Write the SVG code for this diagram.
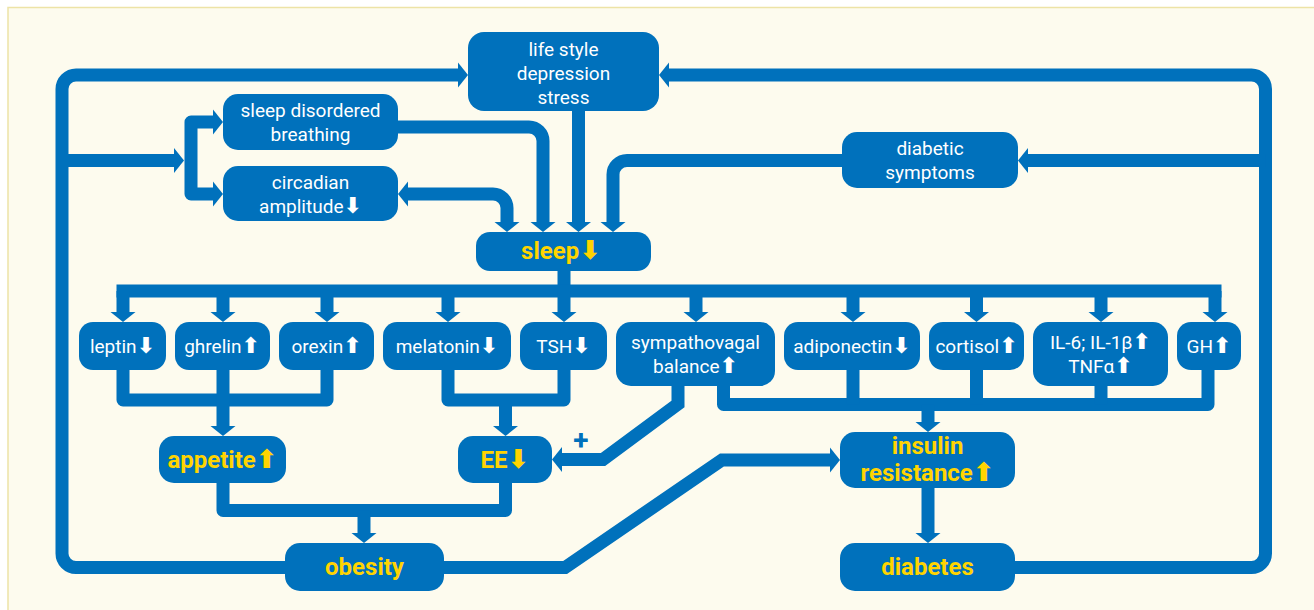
<svg xmlns="http://www.w3.org/2000/svg" width="1314" height="610" viewBox="0 0 1314 610">
<style>
.bx{fill:#0071bc}
.t{fill:#ffffff;font-family:Roboto,"Liberation Sans",sans-serif;font-size:19px;text-anchor:middle}
.y{fill:#ffd400;font-family:Roboto,"Liberation Sans",sans-serif;font-size:24px;font-weight:bold;text-anchor:middle}
.ar{font-family:"DejaVu Sans",sans-serif;font-size:22px;font-weight:bold}
.ay{font-family:"DejaVu Sans",sans-serif;font-size:26px;font-weight:bold}
.c{fill:none;stroke:#0071bc;stroke-width:13;stroke-linejoin:round}
.m{stroke-linejoin:miter}
</style>
<defs>
<marker id="ah" markerUnits="userSpaceOnUse" viewBox="-2 -13 12 26" refX="0" refY="0" markerWidth="12" markerHeight="26" orient="auto-start-reverse" overflow="visible">
<path d="M-1,-12.5 L9,0 L-1,12.5 Z" fill="#0071bc"/>
</marker>
</defs>
<rect x="8" y="7.5" width="1310" height="606" fill="#fdfbee" stroke="#ede3a6" stroke-width="1.5"/>

<g id="connectors">
<path class="c" d="M285,567.5 H76 A14,14 0 0 1 62,553.5 V89 A14,14 0 0 1 76,75 H459" marker-end="url(#ah)"/>
<path class="c" d="M62,160.5 H175" marker-end="url(#ah)"/>
<path class="c" d="M214,122 H191 V194 H214" marker-start="url(#ah)" marker-end="url(#ah)"/>
<path class="c" d="M398,127 H529 A14,14 0 0 1 543,141 V223" marker-end="url(#ah)"/>
<path class="c" d="M407,194 H493 A14,14 0 0 1 507,208 V223" marker-start="url(#ah)" marker-end="url(#ah)"/>
<path class="c" d="M578.5,111 V223" marker-end="url(#ah)"/>
<path class="c" d="M842,160.5 H627 A14,14 0 0 0 613,174.5 V223" marker-end="url(#ah)"/>
<path class="c" d="M1015,567.5 H1251.5 A14,14 0 0 0 1265.5,553.5 V89 A14,14 0 0 0 1251.5,75 H668" marker-end="url(#ah)"/>
<path class="c" d="M1265.5,160.5 H1027" marker-end="url(#ah)"/>
<path class="c" d="M564,271 V291"/>
<path class="c m" d="M116.5,291 H1221.5"/>
<path class="c" d="M123,291 V313" marker-end="url(#ah)"/>
<path class="c" d="M223,291 V313" marker-end="url(#ah)"/>
<path class="c" d="M327,291 V313" marker-end="url(#ah)"/>
<path class="c" d="M448,291 V313" marker-end="url(#ah)"/>
<path class="c" d="M564,291 V313" marker-end="url(#ah)"/>
<path class="c" d="M696,291 V313" marker-end="url(#ah)"/>
<path class="c" d="M853,291 V313" marker-end="url(#ah)"/>
<path class="c" d="M976.5,291 V313" marker-end="url(#ah)"/>
<path class="c" d="M1101,291 V313" marker-end="url(#ah)"/>
<path class="c" d="M1215,291 V313" marker-end="url(#ah)"/>
<path class="c" d="M123,370 V400 H327 V370"/>
<path class="c" d="M223,370 V427" marker-end="url(#ah)"/>
<path class="c" d="M448,370 V400 H564 V370"/>
<path class="c" d="M505.5,400 V427" marker-end="url(#ah)"/>
<path class="c" d="M223,483 V510.5 H505.5 V483"/>
<path class="c" d="M364,510.5 V534" marker-end="url(#ah)"/>
<path class="c m" d="M678,386 V404 L603,459.5 H561" marker-end="url(#ah)"/>
<path class="c" d="M723.5,386 V404.5 H1208 V370"/>
<path class="c" d="M853,370 V404.5"/>
<path class="c" d="M976.5,370 V404.5"/>
<path class="c" d="M1101,386 V404.5"/>
<path class="c" d="M928,404.5 V423" marker-end="url(#ah)"/>
<path class="c m" d="M444,567.5 H565 L722,460 H831" marker-end="url(#ah)"/>
<path class="c" d="M928,488 V534" marker-end="url(#ah)"/>
<text x="581" y="450" fill="#0071bc" font-family="Roboto,'Liberation Sans',sans-serif" font-size="28" font-weight="bold" text-anchor="middle">+</text>
</g>

<g id="lifestyle"><rect class="bx" x="468" y="32" width="191" height="79" rx="16"/>
<text class="t" x="563.5" y="56">life style</text><text class="t" x="563.5" y="80">depression</text><text class="t" x="563.5" y="104">stress</text></g>
<g id="sdb"><rect class="bx" x="223" y="94" width="175" height="56" rx="15"/>
<text class="t" x="310.5" y="117">sleep disordered</text><text class="t" x="310.5" y="141">breathing</text></g>
<g id="circadian"><rect class="bx" x="223" y="166" width="175" height="55" rx="15"/>
<text class="t" x="310.5" y="189">circadian</text><text class="t" x="310.5" y="213">amplitude<tspan class="ar">⬇</tspan></text></g>
<g id="diabsym"><rect class="bx" x="842" y="132" width="176" height="56" rx="15"/>
<text class="t" x="930" y="155">diabetic</text><text class="t" x="930" y="179">symptoms</text></g>
<g id="sleep"><rect class="bx" x="476" y="232" width="175" height="39" rx="14"/>
<text class="y" x="561" y="259">sleep<tspan class="ay">⬇</tspan></text></g>

<g id="leptin"><rect class="bx" x="79" y="322" width="87" height="48" rx="14"/>
<text class="t" x="122.5" y="353">leptin<tspan class="ar">⬇</tspan></text></g>
<g id="ghrelin"><rect class="bx" x="175" y="322" width="95" height="48" rx="14"/>
<text class="t" x="222" y="353">ghrelin<tspan class="ar">⬆</tspan></text></g>
<g id="orexin"><rect class="bx" x="279" y="322" width="95" height="48" rx="14"/>
<text class="t" x="326.5" y="353">orexin<tspan class="ar">⬆</tspan></text></g>
<g id="melatonin"><rect class="bx" x="383" y="322" width="128" height="48" rx="14"/>
<text class="t" x="447" y="353">melatonin<tspan class="ar">⬇</tspan></text></g>
<g id="tsh"><rect class="bx" x="520" y="322" width="87" height="48" rx="14"/>
<text class="t" x="563.5" y="353">TSH<tspan class="ar">⬇</tspan></text></g>
<g id="sympathovagal"><rect class="bx" x="616" y="322" width="159" height="64" rx="15"/>
<text class="t" x="695.5" y="349">sympathovagal</text><text class="t" x="695.5" y="373">balance<tspan class="ar">⬆</tspan></text></g>
<g id="adiponectin"><rect class="bx" x="784" y="322" width="136" height="48" rx="14"/>
<text class="t" x="852" y="353">adiponectin<tspan class="ar">⬇</tspan></text></g>
<g id="cortisol"><rect class="bx" x="929" y="322" width="95" height="48" rx="14"/>
<text class="t" x="976.5" y="353">cortisol<tspan class="ar">⬆</tspan></text></g>
<g id="il6"><rect class="bx" x="1033" y="322" width="135" height="64" rx="15"/>
<text class="t" x="1100.5" y="349">IL-6; IL-1β<tspan class="ar">⬆</tspan></text><text class="t" x="1100.5" y="373">TNFα<tspan class="ar">⬆</tspan></text></g>
<g id="gh"><rect class="bx" x="1177" y="322" width="64" height="48" rx="14"/>
<text class="t" x="1209" y="353">GH<tspan class="ar">⬆</tspan></text></g>

<g id="appetite"><rect class="bx" x="159" y="436" width="127" height="47" rx="15"/>
<text class="y" x="222.5" y="468">appetite<tspan class="ay">⬆</tspan></text></g>
<g id="ee"><rect class="bx" x="458" y="436" width="94" height="47" rx="15"/>
<text class="y" x="505" y="468">EE<tspan class="ay">⬇</tspan></text></g>
<g id="obesity"><rect class="bx" x="285" y="543" width="159" height="48" rx="15"/>
<text class="y" x="364.5" y="575">obesity</text></g>
<g id="insulin"><rect class="bx" x="840" y="432" width="175" height="56" rx="15"/>
<text class="y" x="927.5" y="454" font-size="23">insulin</text><text class="y" x="927.5" y="481" font-size="23">resistance<tspan class="ay">⬆</tspan></text></g>
<g id="diabetes"><rect class="bx" x="840" y="543" width="175" height="48" rx="15"/>
<text class="y" x="927.5" y="575">diabetes</text></g>
</svg>
